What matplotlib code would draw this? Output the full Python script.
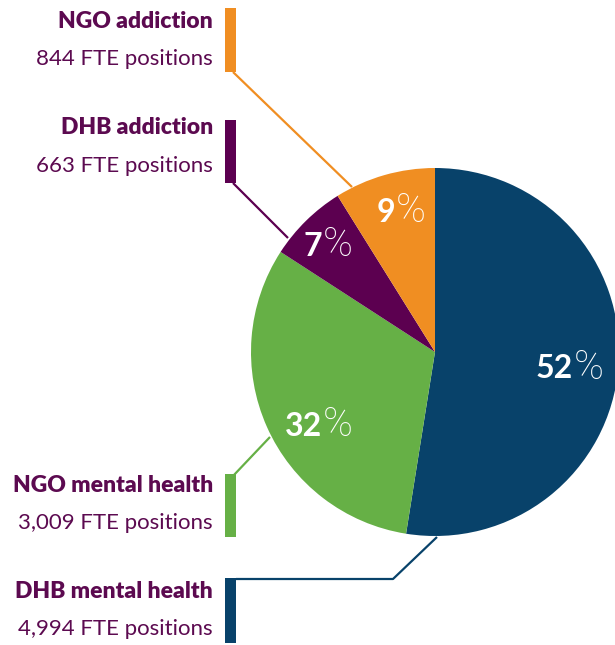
import matplotlib
matplotlib.use("Agg")
import matplotlib.pyplot as plt
import numpy as np

# Data
categories = ["DHB mental health", "NGO mental health", "DHB addiction", "NGO addiction"]
fte = [4994, 3009, 663, 844]
pct_labels = ["52", "32", "7", "9"]
colors = ["#08426a", "#66b046", "#5c0050", "#f08e22"]
text_color = "#5c0a50"

W, H = 615, 645
fig = plt.figure(figsize=(W / 100, H / 100), dpi=100)
ax = fig.add_axes([0, 0, 1, 1])

def Y(y):
    return H - y

cx, cy, R = 435, 352, 184
wedges, _ = ax.pie(fte, colors=colors, startangle=90, counterclock=False,
                   center=(cx, Y(cy)), radius=R,
                   wedgeprops=dict(linewidth=0))
ax.set_xlim(0, W)
ax.set_ylim(0, H)
ax.set_aspect("equal")
ax.axis("off")

# Percentage labels (anchor = boundary between number and % sign)
pct_pos = {"DHB mental health": (573, 369), "NGO mental health": (322, 426),
           "DHB addiction": (322, 246), "NGO addiction": (395, 212)}
for cat, p in zip(categories, pct_labels):
    x, y = pct_pos[cat]
    ax.text(x, Y(y), p, ha="right", va="center", color="white",
            fontsize=23, fontweight="bold", family="Lato")
    ax.text(x + 1, Y(y - 1), "%", ha="left", va="center", color="white",
            fontsize=29, fontweight="light", family="Roboto")

# Side labels and bars
label_layout = {
    "NGO addiction": dict(title_y=21, bar=(8, 72)),
    "DHB addiction": dict(title_y=128, bar=(120, 183)),
    "NGO mental health": dict(title_y=485, bar=(474, 537)),
    "DHB mental health": dict(title_y=591, bar=(578, 643)),
}
for cat, val, col in zip(categories, fte, colors):
    lay = label_layout[cat]
    ax.text(213, Y(lay["title_y"]), cat, ha="right", va="center",
            color=text_color, fontsize=16.5, fontweight="heavy", family="Lato")
    ax.text(213, Y(lay["title_y"] + 38), f"{val:,} FTE positions", ha="right",
            va="center", color=text_color, fontsize=16, family="Lato")
    y0, y1 = lay["bar"]
    ax.add_patch(plt.Rectangle((225, Y(y1)), 11, y1 - y0, color=col, lw=0))

# Leader lines
lw = 1.6
ax.plot([233, 352], [Y(72), Y(187)], color=colors[3], lw=lw, solid_capstyle="butt")
ax.plot([233, 288], [Y(183), Y(238)], color=colors[2], lw=lw, solid_capstyle="butt")
ax.plot([233, 270], [Y(476), Y(437)], color=colors[1], lw=lw, solid_capstyle="butt")
ax.plot([236, 393, 437], [Y(579), Y(579), Y(537)], color=colors[0], lw=lw,
        solid_capstyle="butt")

fig.savefig("out.png", dpi=100)
